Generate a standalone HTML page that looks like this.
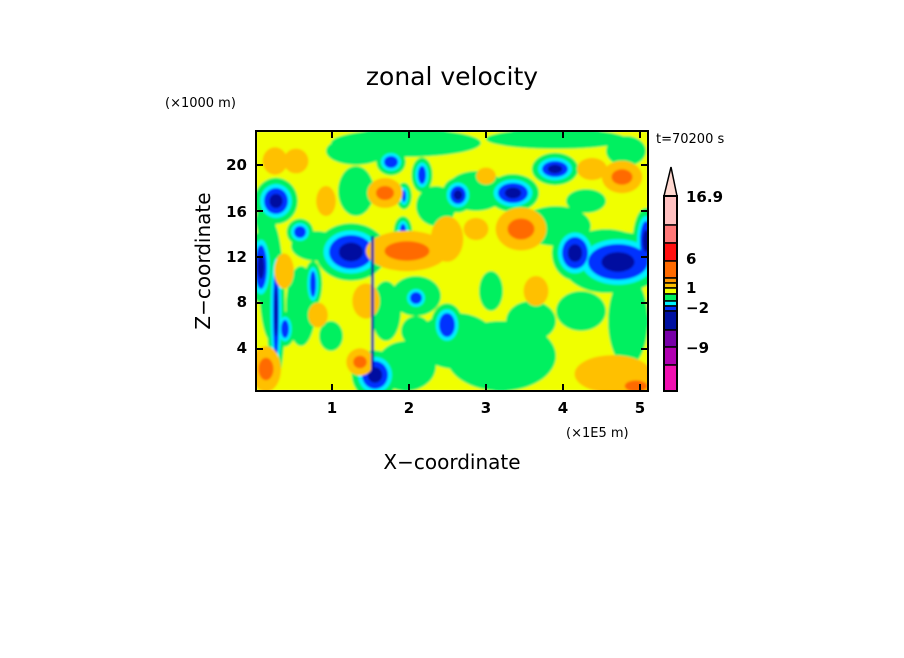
<!DOCTYPE html>
<html><head><meta charset="utf-8"><style>
body{margin:0;background:#fff;width:904px;height:654px;overflow:hidden;font-family:"DejaVu Sans","Liberation Sans",sans-serif}
</style></head><body>
<svg id="s" width="904" height="654" xmlns="http://www.w3.org/2000/svg" font-family="DejaVu Sans, Liberation Sans, sans-serif">
<text x="452" y="85" font-size="25" text-anchor="middle" fill="#000">zonal velocity</text>
<text x="165" y="107" font-size="13" fill="#000">(×1000 m)</text>
<text x="656" y="143" font-size="13" fill="#000">t=70200 s</text>
<text x="566" y="437" font-size="13" fill="#000">(×1E5 m)</text>
<text x="452" y="469" font-size="20" text-anchor="middle" fill="#000">X−coordinate</text>
<text x="210" y="261" font-size="20" text-anchor="middle" fill="#000" transform="rotate(-90 210 261)">Z−coordinate</text>
<defs><clipPath id="c"><rect x="0" y="0" width="392" height="260"/></clipPath>
<filter id="b" x="-10%" y="-10%" width="120%" height="120%"><feGaussianBlur stdDeviation="1"/></filter></defs>
<g transform="translate(256,131)" clip-path="url(#c)"><g id="p" filter="url(#b)"></g></g>
<rect x="256" y="131" width="392" height="260" fill="none" stroke="#000" stroke-width="2"/>
<g id="ticks" stroke="#000" stroke-width="2"></g>
<g font-size="15" font-weight="bold" fill="#000" text-anchor="middle">
<text x="332" y="413">1</text><text x="409" y="413">2</text><text x="486" y="413">3</text><text x="563" y="413">4</text><text x="640" y="413">5</text>
</g>
<g font-size="15" font-weight="bold" fill="#000" text-anchor="end">
<text x="247" y="170">20</text><text x="247" y="217">16</text><text x="247" y="262">12</text><text x="247" y="307">8</text><text x="247" y="353">4</text>
</g>
<g id="cb"></g>
<g font-size="15" font-weight="bold" fill="#000">
<text x="686" y="202">16.9</text><text x="686" y="264">6</text><text x="686" y="293">1</text><text x="686" y="313">−2</text><text x="686" y="353">−9</text>
</g>
</svg>
<script>
var NS="http://www.w3.org/2000/svg";
function el(p,t,a){var e=document.createElementNS(NS,t);for(var k in a)e.setAttribute(k,a[k]);p.appendChild(e);return e;}
var Y="#f0ff00",LO="#ffc000",O="#ff6a00",G="#00f060",C="#00f0ff",B="#0030ff",N="#0010a0";
var p=document.getElementById("p");
el(p,"rect",{x:0,y:0,width:392,height:260,fill:Y});
// green regions
var greens=[[150,12,75,14],[100,20,30,14],[300,8,70,10],[370,20,20,15],[245,225,55,35],[200,210,40,28],[150,235,30,25],[275,190,25,20],[325,180,25,20],[372,190,20,45],[350,130,45,32],[300,95,35,20],[100,60,18,25],[45,175,15,40],[15,150,12,60],[60,115,25,15],[10,90,10,20],[220,60,30,20],[180,75,20,20],[160,165,25,20],[130,180,15,30],[75,205,12,15],[160,200,15,15],[330,70,20,12],[235,160,12,20]];
greens.forEach(function(g){el(p,"ellipse",{cx:g[0],cy:g[1],rx:g[2],ry:g[3],fill:G});});
// blue blobs [cx,cy,rx,ry,navy?]
var blues=[[20,70,12,13,1],[95,121,22,17,1],[5,136,6,22,1],[20,181,3,45,1],[202,64,8,9,1],[257,62,15,10,1],[299,38,13,8,1],[319,122,13,16,1],[362,131,30,18,1],[191,194,8,12,0],[135,31,7,6,0],[166,44,4,9,0],[119,244,13,14,1],[44,101,6,6,0],[57,153,3,13,0],[29,198,4,9,0],[160,167,6,6,0],[147,100,3,7,0],[148,65,2,6,0],[390,110,6,20,1]];
blues.forEach(function(b){
 el(p,"ellipse",{cx:b[0],cy:b[1],rx:b[2]*1.4+5,ry:b[3]*1.4+5,fill:G});});
blues.forEach(function(b){
 el(p,"ellipse",{cx:b[0],cy:b[1],rx:b[2]*1.15+2,ry:b[3]*1.15+2,fill:C});});
blues.forEach(function(b){
 el(p,"ellipse",{cx:b[0],cy:b[1],rx:b[2],ry:b[3],fill:B});
 if(b[4])el(p,"ellipse",{cx:b[0],cy:b[1],rx:b[2]*0.55,ry:b[3]*0.55,fill:N});});
// oranges [cx,cy,rx,ry,strong]
var ors=[[151,120,30,14,1],[191,108,11,16,0],[265,98,18,15,1],[366,46,14,11,1],[10,238,10,16,1],[104,231,9,9,1],[357,243,28,13,0],[19,30,8,9,0],[129,62,12,10,1],[336,38,10,7,0],[70,70,6,10,0],[28,140,6,12,0],[62,184,6,8,0],[230,45,6,5,0],[280,160,8,10,0],[220,98,8,7,0],[110,170,9,12,0],[40,30,8,8,0],[380,255,15,8,1]];
ors.forEach(function(o){
 el(p,"ellipse",{cx:o[0],cy:o[1],rx:o[2]*1.3+2,ry:o[3]*1.3+2,fill:LO});
 if(o[4])el(p,"ellipse",{cx:o[0],cy:o[1],rx:o[2]*0.75,ry:o[3]*0.7,fill:O});});
el(p,"rect",{x:115,y:105,width:3,height:140,fill:N});
// ticks
var t=document.getElementById("ticks");
[332,409,486,563,640].forEach(function(x){el(t,"line",{x1:x,y1:391,x2:x,y2:384});el(t,"line",{x1:x,y1:131,x2:x,y2:138});});
[165,211,257,303,349].forEach(function(y){el(t,"line",{x1:256,y1:y,x2:263,y2:y});el(t,"line",{x1:648,y1:y,x2:641,y2:y});});
// colorbar
var cb=document.getElementById("cb");
var segs=[[196,225,"#ffc0c0"],[225,243,"#ff7878"],[243,261,"#ff1010"],[261,278,"#ff6a00"],[278,283,"#ff9800"],[283,288,"#ffc000"],[288,294,"#f0ff00"],[294,301,"#00f060"],[301,306,"#00f0ff"],[306,311,"#0030ff"],[311,330,"#0010a0"],[330,347,"#7800a8"],[347,365,"#b000b0"],[365,391,"#f010b0"]];
segs.forEach(function(s){el(cb,"rect",{x:664,y:s[0],width:13,height:s[1]-s[0],fill:s[2],stroke:"#000","stroke-width":1.5});});
el(cb,"polygon",{points:"664,196 677,196 671,167",fill:"#ffd8d0",stroke:"#000","stroke-width":1.5});
el(cb,"rect",{x:664,y:196,width:13,height:195,fill:"none",stroke:"#000","stroke-width":2});
</script>
</body></html>
